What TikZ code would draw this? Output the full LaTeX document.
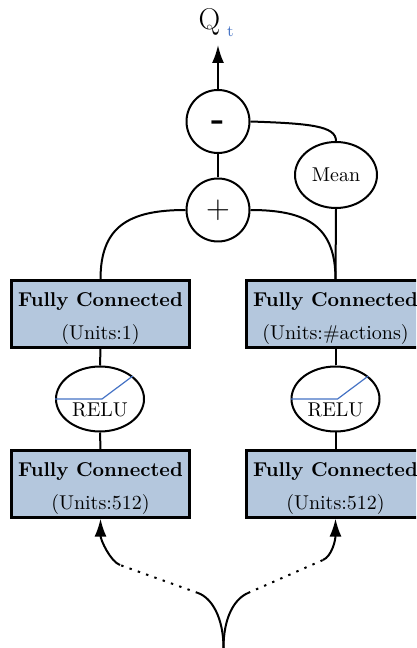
\documentclass[tikz,border=0pt]{standalone}
\usetikzlibrary{arrows.meta,shapes.geometric}
\definecolor{fcfill}{RGB}{180,199,221}
\definecolor{relublue}{RGB}{68,114,196}
\newcommand{\dbl}[1]{\scalebox{2}{#1}}
\begin{document}
\begin{tikzpicture}[x=1pt,y=1pt,
  conn/.style={line width=2pt},
  arr/.style={line width=2pt,-{Latex[length=18pt,width=12pt]}},
  fcbox/.style={draw,line width=2.2pt,fill=fcfill,minimum width=178pt,minimum height=67pt,inner sep=0pt},
  fctext/.style={inner sep=0pt,align=center,yshift=-4pt},
  opnode/.style={draw,circle,line width=2pt,minimum size=63pt,inner sep=0pt},
  relunode/.style={draw,ellipse,line width=2pt,minimum width=88pt,minimum height=65pt,inner sep=0pt},
  relutext/.style={inner sep=0pt,yshift=-10.5pt},
  reluline/.style={draw=relublue,line width=1.2pt},
  dots/.style={line width=2pt,dash pattern=on 2.4pt off 6.4pt}
]
\clip (0,0) rectangle (416,648);

% output label
\node[anchor=base,inner sep=0pt] (qsym) at (209.5,618) {\dbl{\fontsize{15}{18}\selectfont Q}};
\node[anchor=base,inner sep=0pt,text=relublue] (qsub) at (230.5,611) {\dbl{\fontsize{8}{10}\selectfont t}};
\coordinate (qtip) at (218,603);

% aggregation
\node[opnode,text height=18pt,text depth=0pt] (minus) at (218,526.5) {\bfseries\fontsize{36}{40}\selectfont -};
\node[opnode] (plus) at (218,438) {\fontsize{33}{36}\selectfont +};
\node[draw,ellipse,line width=2pt,minimum width=82pt,minimum height=66pt,inner sep=0pt] (mean) at (336,473) {\dbl{Mean}};

% value stream (left) and advantage stream (right)
\node[fcbox] (fc1l) at (100.5,334) {};
\node[fctext] (fc1ltxt) at (fc1l.center) {\dbl{\begin{tabular}{@{}c@{}}\textbf{Fully Connected}\\[4.5pt](Units:1)\end{tabular}}};
\node[fcbox] (fc1r) at (335.5,334) {};
\node[fctext] (fc1rtxt) at (fc1r.center) {\dbl{\begin{tabular}{@{}c@{}}\textbf{Fully Connected}\\[4.5pt](Units:\#actions)\end{tabular}}};

\node[relunode] (relul) at (100,249) {};
\node[relutext] (relultxt) at (relul.center) {\dbl{RELU}};
\node[relunode] (relur) at (335.5,249) {};
\node[relutext] (relurtxt) at (relur.center) {\dbl{RELU}};
\draw[reluline] (relul.west) -- ++(47,0) -- (relul.35);
\draw[reluline] (relur.west) -- ++(47,0) -- (relur.35);

\node[fcbox] (fc2l) at (100.5,164) {};
\node[fctext] (fc2ltxt) at (fc2l.center) {\dbl{\begin{tabular}{@{}c@{}}\textbf{Fully Connected}\\[4.5pt](Units:512)\end{tabular}}};
\node[fcbox] (fc2r) at (335.5,164) {};
\node[fctext] (fc2rtxt) at (fc2r.center) {\dbl{\begin{tabular}{@{}c@{}}\textbf{Fully Connected}\\[4.5pt](Units:512)\end{tabular}}};

% connectors
\draw[arr] (minus.north) -- (qtip);
\draw[conn] (plus.north) -- (minus.south);
\draw[conn] (minus.east) .. controls +(60,-2) and +(0,15) .. (mean.north);
\draw[conn] (mean.south) -- (fc1r.north);
\draw[conn] (plus.east) .. controls +(58,0) and +(0,52) .. (fc1r.north);
\draw[conn] (plus.west) .. controls +(-58,0) and +(0,52) .. (fc1l.north);
\draw[conn] (fc1l.south) -- (relul.north);
\draw[conn] (relul.south) -- (fc2l.north);
\draw[conn] (fc1r.south) -- (relur.north);
\draw[conn] (relur.south) -- (fc2r.north);

% input branches
\coordinate (src) at (223.5,0);
\coordinate (la) at (198,55);
\coordinate (lb) at (120,83);
\coordinate (ra) at (248,55);
\coordinate (rb) at (323,88);
\draw[conn] (src) .. controls (223.5,30) and (212,50) .. (la);
\draw[dots] (la) -- (lb);
\draw[arr] (lb) .. controls (110.6,86.4) and (100.5,108) .. (fc2l.south);
\draw[conn] (src) .. controls (223.5,30) and (234,49) .. (ra);
\draw[dots] (ra) -- (rb);
\draw[arr] (rb) .. controls (332,92) and (335.5,108) .. (fc2r.south);
\end{tikzpicture}
\end{document}
